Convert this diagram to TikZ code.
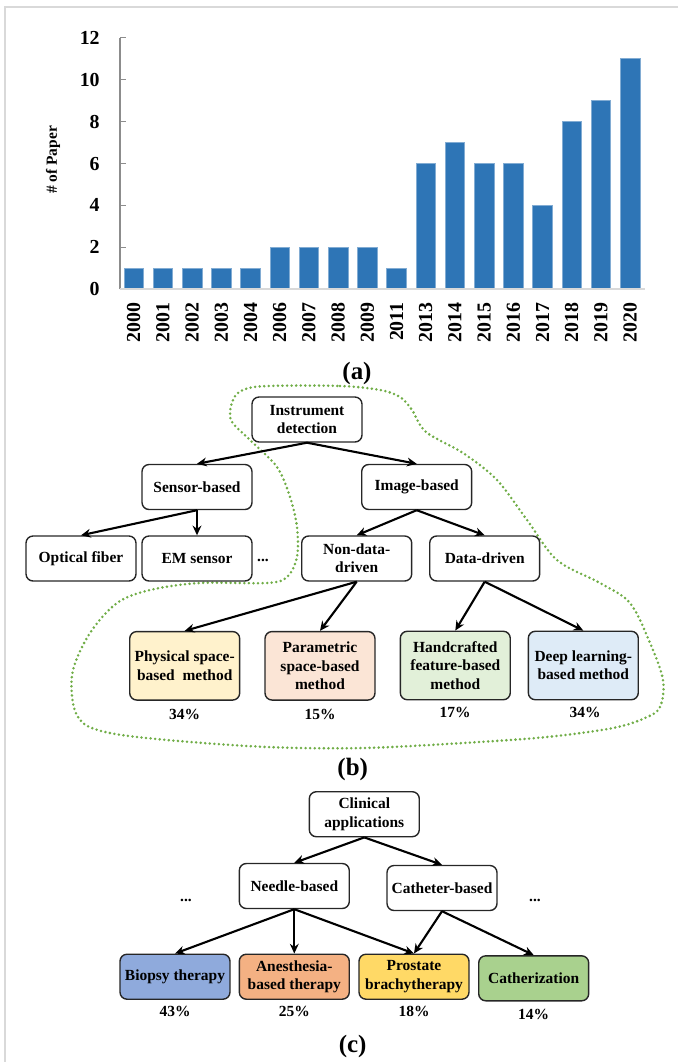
\documentclass[tikz,border=0pt]{standalone}
\usepackage{fontspec}
\setmainfont{Liberation Serif}
\usepackage{xcolor}
\usetikzlibrary{arrows.meta}

\definecolor{barblue}{HTML}{2E75B6}
\definecolor{dotgreen}{HTML}{70AD47}
\definecolor{physfill}{HTML}{FFF2CC}
\definecolor{paramfill}{HTML}{FBE5D6}
\definecolor{handfill}{HTML}{E2F0D9}
\definecolor{deepfill}{HTML}{DEEBF7}
\definecolor{biopsyfill}{HTML}{8FAADC}
\definecolor{anesfill}{HTML}{F4B183}
\definecolor{prostfill}{HTML}{FFD966}
\definecolor{cathfill}{HTML}{A9D18E}

\begin{document}
\begin{tikzpicture}[
    x=0.02cm, y=-0.02cm,
    font=\bfseries\fontsize{8.8}{10.4}\selectfont,
    box/.style={rectangle, draw=black!85, line width=0.8pt, rounded corners=4pt, minimum width=2.2cm, minimum height=0.9cm, align=center, inner sep=1pt},
    leaf/.style={box, minimum height=1.37cm},
    arrow/.style={-{Stealth[length=5.5pt,width=5pt]}, line width=1.2pt},
    bar/.style={fill=barblue, draw=barblue!60!white, line width=0.4pt},
    year/.style={rotate=90, anchor=east, inner sep=0pt, font=\bfseries\fontsize{11.3}{12}\selectfont},
    tick/.style={anchor=east, inner sep=0pt, font=\bfseries\fontsize{11.3}{12}\selectfont},
    caption/.style={font=\bfseries\fontsize{14.2}{16}\selectfont},
    blob/.style={draw=dotgreen, line width=1.6pt, dash pattern=on 0pt off 2.6pt, line cap=round}
]
\useasboundingbox (0,0) rectangle (678,1062);

% Frame
\draw[black!15, line width=0.8pt] (5,1062) -- (5,7) -- (678,7);

% (a) Bar chart
\foreach \yr/\val [count=\i from 0] in {2000/1,2001/1,2002/1,2003/1,2004/1,2006/2,2007/2,2008/2,2009/2,2011/1,2013/6,2014/7,2015/6,2016/6,2017/4,2018/8,2019/9,2020/11}{
    \draw[bar] (124+29.2*\i,289.3) rectangle (143.5+29.2*\i,289.3-20.96*\val);
    \node[year] (yr\yr) at (133.7+29.2*\i,302) {\yr};
}
\draw[black!45, line width=0.6pt] (120,289.3) -- (120,37.7);
\foreach \v in {0,2,...,12}{
    \draw[black!45, line width=0.6pt] (120,289.3-20.96*\v) -- (126,289.3-20.96*\v);
    \node[tick] (tick\v) at (100,289.3-20.96*\v) {\v};
}
\draw[black!15, line width=1.2pt] (120,289.3) -- (645,289.3);
\node[rotate=90, font=\bfseries\fontsize{8.8}{10}\selectfont] (ylabel) at (53,160) {\# of Paper};
\node[caption] (capa) at (357,373) {(a)};

% (b) Instrument detection
\draw[blob] plot[smooth cycle, tension=0.55] coordinates {
    (267,386) (340,386) (380,390) (400,397) (412,410) (426,432) (463,453)
    (497,480) (527,520) (557,560) (600,583) (630,603) (650,643) (663,680)
    (660,707) (645,718) (613,728) (547,737) (463,743) (363,748) (267,747)
    (167,740) (110,733) (83,723) (73,703) (73,670) (90,633) (117,603)
    (150,590) (200,583) (267,583) (287,577) (297,557) (297,527) (290,497)
    (277,467) (250,440) (231,420) (233,400) (243,390)};

\node[box] (instr) at (307,419.5) {Instrument\\detection};
\node[box] (sensor) at (197,487) {Sensor-based};
\node[box] (image) at (416.7,487) {Image-based};
\node[box] (optical) at (81,558.5) {Optical fiber};
\node[box] (emsensor) at (197,558.5) {EM sensor};
\node (bdots) at (263,560) {...};
\node[box] (nondata) at (356.7,558.5) {Non-data-\\driven};
\node[box] (datadriven) at (484.7,558.5) {Data-driven};
\node[leaf, fill=physfill] (physical) at (184.7,665.8) {Physical space-\\based~~method};
\node[leaf, fill=paramfill] (parametric) at (320,665.8) {Parametric\\space-based\\method};
\node[leaf, fill=handfill] (handcrafted) at (455.3,665.5) {Handcrafted\\feature-based\\method};
\node[leaf, fill=deepfill] (deeplearn) at (583.3,665.5) {Deep learning-\\based method};
\node (pphys) at (184.7,714) {34\%};
\node (pparam) at (320,714) {15\%};
\node (phand) at (455,712) {17\%};
\node (pdeep) at (585,712) {34\%};

\draw[arrow] (instr.south) -- (sensor.north);
\draw[arrow] (instr.south) -- (image.north);
\draw[arrow] (sensor.south) -- (optical.north);
\draw[arrow] (sensor.south) -- (emsensor.north);
\draw[arrow] (image.south) -- (nondata.north);
\draw[arrow] (image.south) -- (datadriven.north);
\draw[arrow] (nondata.south) -- (physical.north);
\draw[arrow] (nondata.south) -- (parametric.north);
\draw[arrow] (datadriven.south) -- (handcrafted.north);
\draw[arrow] (datadriven.south) -- (deeplearn.north);
\node[caption] (capb) at (352.7,769) {(b)};

% (c) Clinical applications
\node[box] (clinical) at (364.3,814.2) {Clinical\\applications};
\node[box] (needle) at (294.3,886) {Needle-based};
\node[box] (catheter) at (442,888) {Catheter-based};
\node (cdotsl) at (186,900) {...};
\node (cdotsr) at (535,900) {...};
\node[box, fill=biopsyfill] (biopsy) at (175,976.7) {Biopsy therapy};
\node[box, fill=anesfill] (anesthesia) at (294.3,976.7) {Anesthesia-\\based therapy};
\node[box, fill=prostfill] (prostate) at (414,976.7) {Prostate\\brachytherapy};
\node[box, fill=cathfill] (catheterization) at (533.7,978.3) {Catherization};
\node (pbiopsy) at (175,1011) {43\%};
\node (panes) at (294.3,1011) {25\%};
\node (pprost) at (414,1011) {18\%};
\node (pcath) at (533.7,1014.3) {14\%};

\draw[arrow] (clinical.south) -- (needle.north);
\draw[arrow] (clinical.south) -- (catheter.north);
\draw[arrow] (needle.south) -- (biopsy.north);
\draw[arrow] (needle.south) -- (anesthesia.north);
\draw[arrow] (needle.south) -- (prostate.north);
\draw[arrow] (catheter.south) -- (prostate.north);
\draw[arrow] (catheter.south) -- (catheterization.north);
\node[caption] (capc) at (352.7,1046) {(c)};

\end{tikzpicture}
\end{document}
